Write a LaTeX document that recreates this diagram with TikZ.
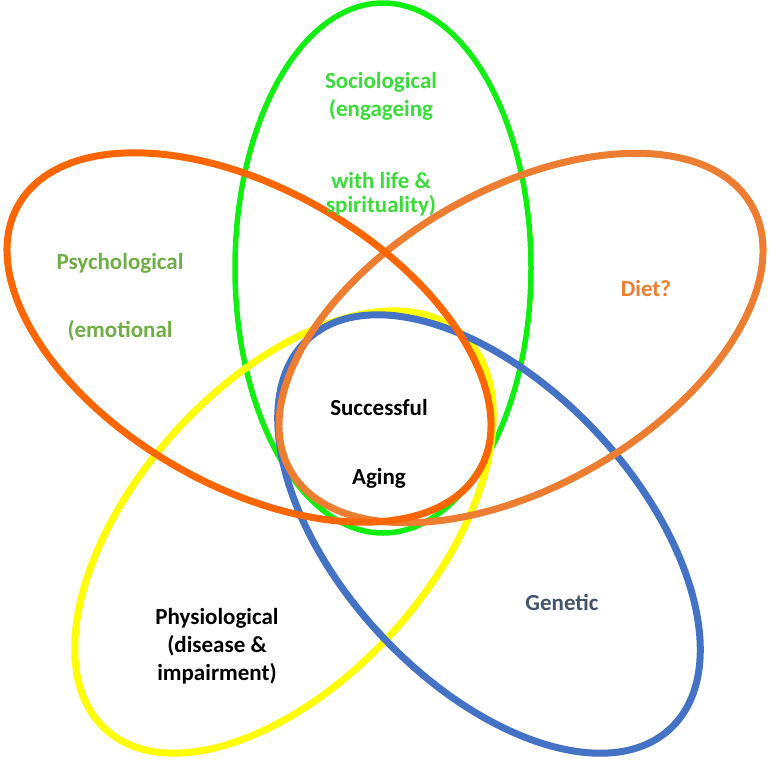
\documentclass[tikz,border=0pt]{standalone}
\usepackage{fontspec}
\setmainfont{Carlito}
\definecolor{cDark}{HTML}{FF6600}
\definecolor{cLight}{HTML}{ED7D31}
\definecolor{cYellow}{HTML}{FFFF00}
\definecolor{cBlue}{HTML}{4472C4}
\definecolor{cGreen}{HTML}{11EE11}
\definecolor{tSoc}{HTML}{3ADB3A}
\definecolor{tPsy}{HTML}{70AD47}
\definecolor{tGen}{HTML}{44546A}
\tikzset{
  petal/.style={line width=7pt},
  lbl/.style={font=\fontsize{23}{28}\selectfont\bfseries, align=center, anchor=base, inner sep=0pt},
}
\begin{document}
\begin{tikzpicture}[x=1pt,y=-1pt]
\useasboundingbox (0,0) rectangle (774,764);
% green (vertical)
\draw[cGreen, line width=5.5pt] (383,268) ellipse [x radius=148, y radius=265];
% yellow
\draw[petal, cYellow, shift={(284,532)}, rotate=48] (0,0) ellipse [x radius=266, y radius=148];
% blue
\draw[petal, cBlue, shift={(489,534)}, rotate=-47] (0,0) ellipse [x radius=266, y radius=148];
% light orange (right)
\draw[petal, cLight, shift={(521,338)}, rotate=30] (0,0) ellipse [x radius=266, y radius=148];
% dark orange (left)
\draw[petal, cDark, shift={(249,337.5)}, rotate=-30] (0,0) ellipse [x radius=266, y radius=148];
% labels
\node[lbl, font=\fontsize{23}{27}\selectfont\bfseries, text=tSoc] (soc) at (381,212)
  {Sociological\\[1pt](engageing\\[45pt]with life \&\\[-3pt]spirituality)};
\node[lbl, text=tPsy] (psy) at (120,337) {Psychological\\[40pt](emotional};
\node[lbl, text=cLight] (diet) at (646,296) {Diet?};
\node[lbl, text=black] (sa) at (379,484) {Successful\\[41pt]Aging};
\node[lbl, text=black] (phy) at (217,680) {Physiological\\(disease \&\\impairment)};
\node[lbl, text=tGen] (gen) at (562,610) {Genetic};
\end{tikzpicture}
\end{document}
